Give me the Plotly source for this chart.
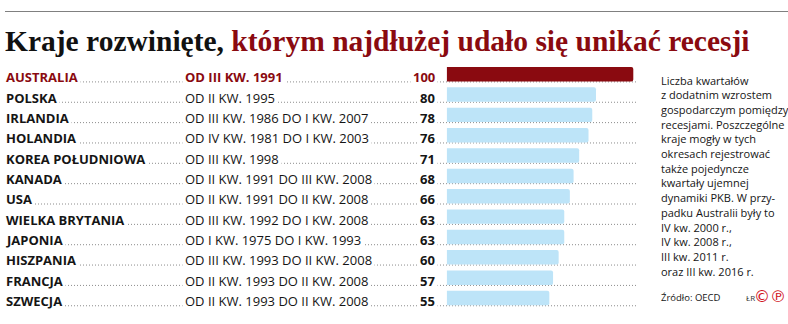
import plotly.graph_objects as go

W, H = 788, 324

countries = ["AUSTRALIA", "POLSKA", "IRLANDIA", "HOLANDIA", "KOREA POŁUDNIOWA", "KANADA",
             "USA", "WIELKA BRYTANIA", "JAPONIA", "HISZPANIA", "FRANCJA", "SZWECJA"]
periods = ["OD III KW. 1991", "OD II KW. 1995", "OD III KW. 1986 DO I KW. 2007",
           "OD IV KW. 1981 DO I KW. 2003", "OD III KW. 1998", "OD II KW. 1991 DO III KW. 2008",
           "OD II KW. 1991 DO II KW. 2008", "OD III KW. 1992 DO I KW. 2008",
           "OD I KW. 1975 DO I KW. 1993", "OD III KW. 1993 DO II KW. 2008",
           "OD II KW. 1993 DO II KW. 2008", "OD II KW. 1993 DO II KW. 2008"]
quarters = [100, 80, 78, 76, 71, 68, 66, 63, 63, 60, 57, 55]

title_black = "Kraje rozwinięte,"
title_red = "którym najdłużej udało się unikać recesji"

note_lines = ["Liczba kwartałów", "z dodatnim wzrostem", "gospodarczym pomiędzy",
              "recesjami. Poszczególne", "kraje mogły w tych", "okresach rejestrować",
              "także pojedyncze", "kwartały ujemnej", "dynamiki PKB. W przy-",
              "padku Australii były to", "IV kw. 2000 r.,", "IV kw. 2008 r.,",
              "III kw. 2011 r.", "oraz III kw. 2016 r."]
source = "Źródło: OECD"
author = "ŁR"
logo = "©℗"

RED = "#8a0a10"
BLUE = "#bde4f8"
TXT = "#151515"
SANS = "Open Sans"

n = len(countries)
ys = list(range(n))
colors = [RED] + [BLUE] * (n - 1)

fig = go.Figure()
fig.add_trace(go.Bar(
    x=quarters, y=ys, orientation="h", width=0.71,
    marker=dict(color=colors, line=dict(width=0)),
    hoverinfo="skip",
))

def px(x):
    return x / W

def py(y):
    return 1 - y / H

x0, x1 = 446.7, 640.0
top, bot = 64.0, 308.2
fig.update_layout(
    width=W, height=H, margin=dict(l=0, r=0, t=0, b=0),
    paper_bgcolor="white", plot_bgcolor="rgba(0,0,0,0)",
    showlegend=False, barcornerradius=2,
    xaxis=dict(domain=[px(x0), px(x1)], range=[0, (x1 - x0) / 1.866], visible=False),
    yaxis=dict(domain=[py(bot), py(top)], range=[n - 0.5, -0.5], visible=False),
)

shapes = [dict(type="line", xref="paper", yref="paper", x0=px(5), x1=1, y0=py(11.5), y1=py(11.5),
               line=dict(color="#808080", width=1))]
for i in ys:
    shapes.append(dict(type="line", xref="paper", yref="y", x0=px(5), x1=px(638),
                       y0=i + 0.38, y1=i + 0.38, layer="below",
                       line=dict(color="#8c8c8c", width=1, dash="1px,2px")))
fig.update_layout(shapes=shapes)

ann = []
ann.append(dict(xref="paper", yref="paper", x=px(3), y=py(41), xanchor="left", yanchor="middle",
                showarrow=False,
                text=f"<span style='color:#111'>{title_black}</span> <span style='color:{RED}'>{title_red}</span>",
                font=dict(family="Liberation Serif", size=29.5, color="#111", weight="bold")))
for i, (c, p, q) in enumerate(zip(countries, periods, quarters)):
    col = RED if i == 0 else TXT
    common = dict(yref="y", y=i, yanchor="middle", yshift=-3, showarrow=False,
                  bgcolor="white", borderpad=2, xref="paper")
    ann.append(dict(x=px(3), xanchor="left", text=f"<b>{c}</b>",
                    font=dict(family=SANS, size=13, color=col), **common))
    ann.append(dict(x=px(182), xanchor="left", text=(f"<b>{p}</b>" if i == 0 else p),
                    font=dict(family=SANS, size=13, color=col), **common))
    ann.append(dict(x=px(438), xanchor="right", text=f"<b>{q}</b>",
                    font=dict(family=SANS, size=13, color=col), **common))

for k, line in enumerate(note_lines):
    ann.append(dict(xref="paper", yref="paper", x=px(659), y=py(80 + 14.7 * k),
                    xanchor="left", yanchor="middle", showarrow=False, text=line,
                    font=dict(family=SANS, size=11, color=TXT)))
ann.append(dict(xref="paper", yref="paper", x=px(659), y=py(297), xanchor="left", yanchor="middle",
                showarrow=False, text=source, font=dict(family=SANS, size=9.5, color=TXT)))
ann.append(dict(xref="paper", yref="paper", x=px(744), y=py(297), xanchor="left", yanchor="middle",
                showarrow=False, text=author, font=dict(family=SANS, size=8, color="#333")))
ann.append(dict(xref="paper", yref="paper", x=px(788), y=py(296), xanchor="right", yanchor="middle",
                showarrow=False, text=logo, font=dict(family="DejaVu Sans", size=16, color="#d0101a")))
fig.update_layout(annotations=ann)

fig.write_html("out.html")
